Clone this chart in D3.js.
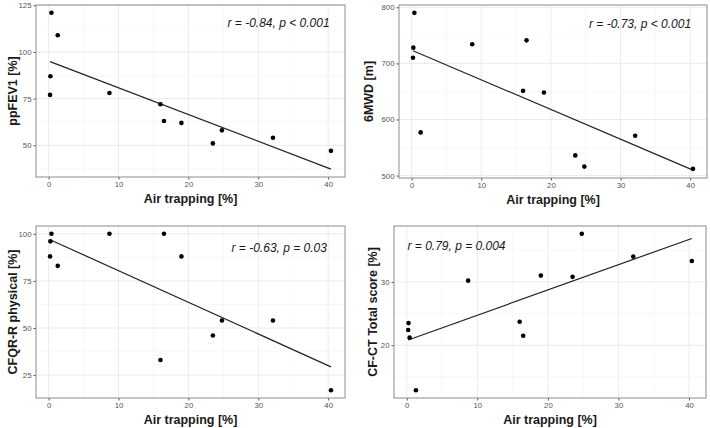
<!DOCTYPE html>
<html>
<head>
<meta charset="utf-8">
<script src="https://cdn.jsdelivr.net/npm/d3@7/dist/d3.min.js"></script>
<style>
  html, body { margin: 0; padding: 0; background: #fff; }
  svg { display: block; font-family: "Liberation Sans", Arial, sans-serif; }
</style>
</head>
<body>
<svg id="chart" width="710" height="428"></svg>
<script>
// ---- Data ----
const airTrapping  = [0.4, 0.25, 0.2, 1.3, 8.7, 16.0, 16.5, 19.0, 23.5, 24.8, 32.1, 40.4];
const ppFEV1       = [121, 87, 77, 109, 78, 72, 63, 62, 51, 58, 54, 47];
const sixMWD       = [790, 728, 710, 577, 734, 651, 741, 648, 536, 516, 571, 512];
const cfqrPhysical = [100, 96, 88, 83, 100, 33, 100, 88, 46, 54, 54, 17];
const cfctTotal    = [21.2, 23.5, 22.4, 12.9, 30.2, 23.7, 21.5, 31.0, 30.8, 37.6, 34.0, 33.3];

const xTicks = [0, 10, 20, 30, 40];
const ppFEV1Ticks = [50, 75, 100, 125];
const sixMWDTicks = [500, 600, 700, 800];
const cfqrTicks = [25, 50, 75, 100];
const cfctTicks = [20, 30];

const xTitle = "Air trapping [%]";
const yTitles = ["ppFEV1 [%]", "6MWD [m]", "CFQR-R physical [%]", "CF-CT Total score [%]"];
const annotTexts = ["r = -0.84, p < 0.001", "r = -0.73, p < 0.001", "r = -0.63, p = 0.03", "r = 0.79, p = 0.004"];
const annotX = [32.9, 32.8, 33.0, 7.05];
const annotY = [115.7, 771, 92.4, 35.7];

// ---- Layout (pixels) ----
const panels = [
  { y: ppFEV1,       ticks: ppFEV1Ticks, left: 36,  right: 345, top: 5,   bottom: 177, titleX: 12 },
  { y: sixMWD,       ticks: sixMWDTicks, left: 399, right: 707, top: 5,   bottom: 178, titleX: 368 },
  { y: cfqrPhysical, ticks: cfqrTicks,   left: 36,  right: 345, top: 226, bottom: 398, titleX: 12 },
  { y: cfctTotal,    ticks: cfctTicks,   left: 394, right: 706, top: 226, bottom: 398, titleX: 372 }
];

const svg = d3.select("#chart");

function linreg(xs, ys) {
  const mx = d3.mean(xs), my = d3.mean(ys);
  let sxy = 0, sxx = 0;
  xs.forEach((x, i) => { sxy += (x - mx) * (ys[i] - my); sxx += (x - mx) * (x - mx); });
  const b = sxy / sxx;
  return x => my + b * (x - mx);
}
function expand([a, b]) { const d = (b - a) * 0.05; return [a - d, b + d]; }
function minorBetween(ticks, domain) {
  const step = ticks.length > 1 ? ticks[1] - ticks[0] : 10;
  const out = [];
  for (let v = ticks[0] - step / 2; v <= domain[1]; v += step) {
    if (v >= domain[0] && v <= domain[1]) out.push(v);
  }
  return out;
}

panels.forEach((p, i) => {
  const fit = linreg(airTrapping, p.y);
  const xExt = d3.extent(airTrapping);
  const fitPts = xExt.map(x => [x, fit(x)]);
  const xDom = expand(xExt);
  const yDom = expand(d3.extent(p.y.concat(fitPts.map(d => d[1]))));

  const x = d3.scaleLinear().domain(xDom).range([p.left, p.right]);
  const y = d3.scaleLinear().domain(yDom).range([p.bottom, p.top]);

  const g = svg.append("g");

  // grid
  const xMinor = minorBetween(xTicks, xDom);
  const yMinor = minorBetween(p.ticks, yDom);
  g.selectAll(".xminor").data(xMinor).join("line")
    .attr("x1", d => x(d)).attr("x2", d => x(d)).attr("y1", p.top).attr("y2", p.bottom)
    .attr("stroke", "#f3f3f3").attr("stroke-width", 0.6);
  g.selectAll(".yminor").data(yMinor).join("line")
    .attr("y1", d => y(d)).attr("y2", d => y(d)).attr("x1", p.left).attr("x2", p.right)
    .attr("stroke", "#f3f3f3").attr("stroke-width", 0.6);
  g.selectAll(".xmajor").data(xTicks).join("line")
    .attr("x1", d => x(d)).attr("x2", d => x(d)).attr("y1", p.top).attr("y2", p.bottom)
    .attr("stroke", "#ebebeb").attr("stroke-width", 1);
  g.selectAll(".ymajor").data(p.ticks).join("line")
    .attr("y1", d => y(d)).attr("y2", d => y(d)).attr("x1", p.left).attr("x2", p.right)
    .attr("stroke", "#ebebeb").attr("stroke-width", 1);

  // axes
  const xAxis = d3.axisBottom(x).tickValues(xTicks).tickSize(2.5).tickPadding(2);
  const yAxis = d3.axisLeft(y).tickValues(p.ticks).tickSize(2.5).tickPadding(2);
  const gx = g.append("g").attr("transform", `translate(0,${p.bottom})`).call(xAxis);
  const gy = g.append("g").attr("transform", `translate(${p.left},0)`).call(yAxis);
  [gx, gy].forEach(a => {
    a.select(".domain").remove();
    a.selectAll(".tick line").attr("stroke", "#555");
    a.selectAll(".tick text").attr("fill", "#555").attr("font-size", 7.8)
      .attr("font-family", "'Liberation Sans', Arial, sans-serif");
  });

  // border
  g.append("rect").attr("x", p.left).attr("y", p.top)
    .attr("width", p.right - p.left).attr("height", p.bottom - p.top)
    .attr("fill", "none").attr("stroke", "#8c8c8c").attr("stroke-width", 1);

  // regression line
  g.append("path").datum(fitPts)
    .attr("d", d3.line().x(d => x(d[0])).y(d => y(d[1])))
    .attr("fill", "none").attr("stroke", "#222").attr("stroke-width", 1.2);

  // points
  g.selectAll(".pt").data(airTrapping.map((v, k) => [v, p.y[k]])).join("circle")
    .attr("cx", d => x(d[0])).attr("cy", d => y(d[1])).attr("r", 2.3).attr("fill", "#000");

  // annotation
  g.append("text").attr("x", x(annotX[i])).attr("y", y(annotY[i]) + 4)
    .attr("text-anchor", "middle").attr("font-style", "italic").attr("font-size", 12)
    .attr("fill", "#1a1a1a").text(annotTexts[i]);

  // axis titles
  g.append("text").attr("x", (p.left + p.right) / 2).attr("y", p.bottom + 26)
    .attr("text-anchor", "middle").attr("font-weight", "bold").attr("font-size", 12.5)
    .attr("fill", "#1a1a1a").text(xTitle);
  g.append("text")
    .attr("transform", `translate(${p.titleX + 4.5},${(p.top + p.bottom) / 2}) rotate(-90)`)
    .attr("text-anchor", "middle").attr("font-weight", "bold").attr("font-size", 12.5)
    .attr("fill", "#1a1a1a").text(yTitles[i]);
});
</script>
</body>
</html>
